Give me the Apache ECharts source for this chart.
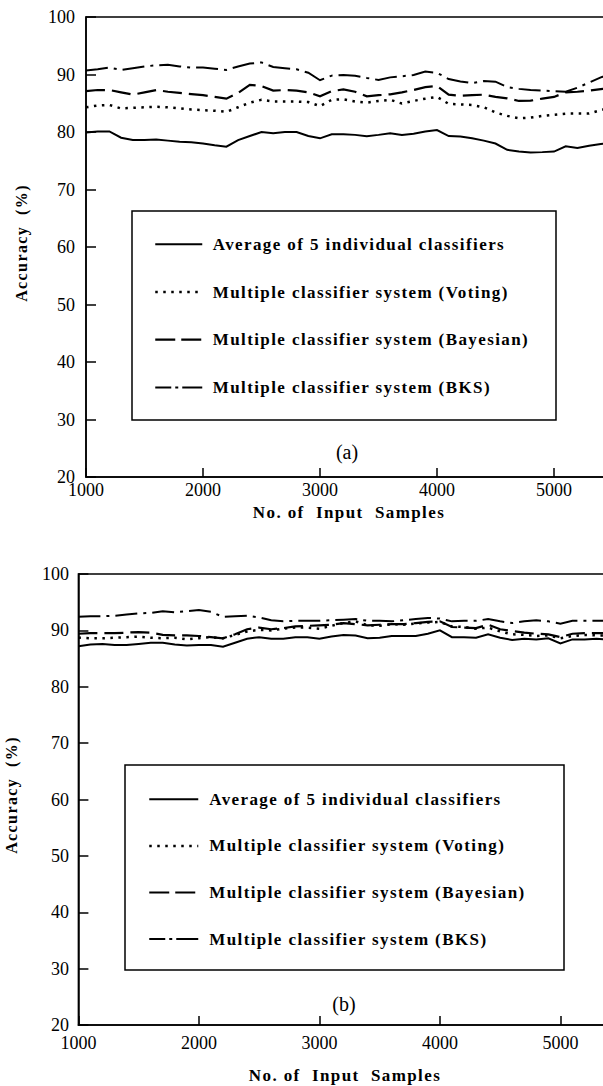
<!DOCTYPE html>
<html><head><meta charset="utf-8">
<style>
html,body{margin:0;padding:0;background:#fff;}
#c{width:603px;height:1086px;}
#c text[style*="bold"]{letter-spacing:1.4px;}
</style>
<script src="https://cdn.jsdelivr.net/npm/echarts@6.0.0/dist/echarts.min.js"></script>
</head><body><div id="c"></div>
<script>
// ---- data ----
const seriesNames = ['Average of 5 individual classifiers','Multiple classifier system (Voting)','Multiple classifier system (Bayesian)','Multiple classifier system (BKS)'];
const xTicks = [1000, 2000, 3000, 4000, 5000];
const yTicks = [20, 30, 40, 50, 60, 70, 80, 90, 100];

const samplesA = [1000,1100,1200,1300,1400,1500,1600,1700,1800,1900,2000,2100,2200,2300,2400,2500,2600,2700,2800,2900,3000,3100,3200,3300,3400,3500,3600,3700,3800,3900,4000,4100,4200,4300,4400,4500,4600,4700,4800,4900,5000,5100,5200,5300,5400,5500];
const avgA = [79.9,80.1,80.1,79.0,78.6,78.6,78.7,78.5,78.3,78.2, 78.0,77.7,77.45,78.6,79.3,80.0,79.8,80.0,80.0,79.3, 78.9,79.6,79.6,79.5,79.25,79.5,79.8,79.5,79.7,80.1, 80.35,79.3,79.2,78.9,78.5,78.0,76.9,76.6,76.45,76.5, 76.6,77.5,77.2,77.6,77.9,78.1];
const votA = [84.3,84.6,84.7,84.1,84.2,84.3,84.4,84.3,84.1,83.9, 83.8,83.7,83.5,84.3,85.1,85.6,85.3,85.3,85.3,85.2, 84.5,85.6,85.7,85.3,85.1,85.4,85.6,84.95,85.4,85.8, 86.1,84.9,84.8,84.7,84.3,83.4,82.8,82.4,82.5,82.8, 83.0,83.2,83.2,83.2,83.8,84.3];
const bayA = [87.1,87.3,87.3,86.9,86.5,86.9,87.3,87.0,86.8,86.6, 86.4,86.1,85.8,86.8,88.2,88.0,87.2,87.3,87.2,86.9, 86.2,87.1,87.4,87.0,86.2,86.4,86.55,86.9,87.3,87.8, 88.0,86.5,86.3,86.4,86.5,86.1,85.85,85.4,85.45,85.8, 86.1,86.9,87.0,87.2,87.45,87.7];
const bksA = [90.7,90.9,91.2,90.8,91.1,91.4,91.6,91.7,91.4,91.2, 91.2,91.0,90.8,91.4,91.9,92.1,91.3,91.1,90.9,90.3, 89.0,89.8,89.9,89.8,89.4,89.05,89.5,89.7,89.9,90.5, 90.3,89.2,88.8,88.5,88.85,88.75,87.8,87.5,87.3,87.2, 87.1,87.0,87.7,88.6,89.5,90.2];

const samplesB = [1000,1100,1200,1300,1400,1500,1600,1700,1800,1900,2000,2100,2200,2300,2400,2500,2600,2700,2800,2900,3000,3100,3200,3300,3400,3500,3600,3700,3800,3900,4000,4100,4200,4300,4400,4500,4600,4700,4800,4900,5000,5100,5200,5300,5400];
const avgB = [87.2,87.5,87.6,87.4,87.4,87.6,87.8,87.8,87.5,87.3, 87.4,87.4,87.1,87.8,88.5,88.8,88.5,88.5,88.8,88.8, 88.5,88.9,89.2,89.1,88.6,88.7,89.0,89.0,89.0,89.4, 90.0,88.8,88.8,88.7,89.3,88.7,88.3,88.5,88.4,88.6, 87.7,88.4,88.4,88.5,88.4];
const votB = [88.7,88.6,88.6,88.7,88.8,88.9,88.7,88.6,88.7,88.4, 88.6,88.8,88.6,89.2,89.8,90.1,90.0,90.3,90.5,90.5, 90.3,90.8,91.3,91.6,90.9,90.8,91.1,91.0,91.2,91.4, 91.5,90.7,90.6,90.3,90.5,89.8,89.3,89.2,89.0,89.1, 88.6,89.0,89.2,89.1,89.1];
const bayB = [89.4,89.5,89.5,89.5,89.6,89.7,89.6,89.2,89.1,89.1, 89.0,88.8,88.6,89.3,90.2,90.5,90.2,90.4,90.7,90.8, 90.9,91.0,91.3,91.1,90.9,91.0,91.1,91.1,91.3,91.5, 91.6,90.6,90.5,90.4,91.0,90.2,89.9,89.6,89.4,89.3, 88.8,89.4,89.5,89.5,89.5];
const bksB = [92.4,92.5,92.5,92.6,92.8,93.0,93.1,93.4,93.2,93.4, 93.6,93.3,92.4,92.5,92.6,92.3,91.8,91.6,91.7,91.7, 91.7,91.8,91.9,92.0,91.7,91.7,91.6,91.8,92.0,92.2, 92.1,91.6,91.7,91.7,92.0,91.6,91.3,91.6,91.8,91.6, 91.2,91.7,91.7,91.7,91.7];

// ---- styles ----
const SERIF = 'Liberation Serif';
const lineStyles = [
  {type:'solid', width:2},
  {type:[2.5,5.5], width:2.5},
  {type:[19,7], width:2.2},
  {type:[22,6,3,6], width:2}
];
const legendLineStyles = [
  {type:'solid', width:2},
  {type:[2.5,5.5], width:2.5},
  {type:[20,6], width:2.2},
  {type:[16,4,3,4,24,0], width:2}
];
const pair = (xs, ys) => xs.map((x, i) => [x, ys[i]]);
const dataA = [avgA, votA, bayA, bksA];
const dataB = [avgB, votB, bayB, bksB];

const series = [];
[0,1].forEach(g => {
  const xs = g === 0 ? samplesA : samplesB;
  const ds = g === 0 ? dataA : dataB;
  ds.forEach((ys, k) => {
    series.push({
      name: seriesNames[k], type:'line', xAxisIndex:g, yAxisIndex:g,
      data: pair(xs, ys), symbol:'none', showSymbol:false, smooth:false,
      lineStyle: Object.assign({color:'#000', cap:'butt', join:'miter'}, lineStyles[k]),
      itemStyle:{color:'#000', opacity:0}, silent:true, z:3
    });
  });
});

function xAxis(g, margin){
  return {gridIndex:g, type:'value', min:1000, max:6000, interval:1000,
    axisLine:{show:true, onZero:false, lineStyle:{color:'#000', width:1.5}},
    axisTick:{show:true, inside:true, length:9, lineStyle:{color:'#000', width:1.5}},
    axisLabel:{show:true, margin:margin, color:'#000', fontFamily:SERIF, fontSize:18, lineHeight:14,
      formatter: v => xTicks.indexOf(v) >= 0 ? String(v) : ''},
    splitLine:{show:false}};
}
function yAxis(g, margin){
  return {gridIndex:g, type:'value', min:20, max:100, interval:10,
    axisLine:{show:true, lineStyle:{color:'#000', width:1.5}},
    axisTick:{show:true, inside:true, length:10, lineStyle:{color:'#000', width:1.5}},
    axisLabel:{show:true, margin:margin, color:'#000', fontFamily:SERIF, fontSize:18, lineHeight:12,
      formatter: v => yTicks.indexOf(v) >= 0 ? String(v) : ''},
    splitLine:{show:false}};
}
function legend(left, top, w, gap, pad){
  return {show:true, orient:'vertical', left:left, top:top, itemWidth:w, itemHeight:14, itemGap:gap,
    selectedMode:false, padding:0, z:10,
    data: seriesNames.map((n, k) => ({name:n, lineStyle:Object.assign({color:'#000', cap:'butt'}, legendLineStyles[k]), itemStyle:{opacity:0}})),
    itemStyle:{opacity:0},
    textStyle:{fontFamily:SERIF, fontWeight:'bold', fontSize:17, color:'#000', padding:[0,0,0,pad]}};
}
const boldText = (txt, x, y, size, rot) => ({type:'text', x:x, y:y, rotation:rot||0, z:20,
  style:{text:txt, fontFamily:SERIF, fontWeight:'bold', fontSize:size, fill:'#000', textAlign:'center', textVerticalAlign:'middle'}});
const plainText = (txt, x, y, size) => ({type:'text', x:x, y:y, z:20,
  style:{text:txt, fontFamily:SERIF, fontSize:size, fill:'#000', textAlign:'center', textVerticalAlign:'middle'}});

const chart = echarts.init(document.getElementById('c'), null, {renderer:'svg', width:603, height:1086});
chart.setOption({
  animation:false,
  backgroundColor:'#fff',
  grid:[
    {left:86, top:17, width:585, height:460, show:true, borderColor:'#000', borderWidth:1.5, backgroundColor:'transparent', containLabel:false, outerBoundsMode:'none'},
    {left:78.4, top:574, width:602.5, height:451, show:true, borderColor:'#000', borderWidth:1.5, backgroundColor:'transparent', containLabel:false, outerBoundsMode:'none'}
  ],
  xAxis:[xAxis(0, 6), xAxis(1, 11)],
  yAxis:[yAxis(0, 11), yAxis(1, 9.5)],
  legend:[legend(154, 235.8, 47, 30.7, 5.5), legend(148, 790.8, 49, 29.6, 6)],
  graphic:[
    {type:'rect', z:1, shape:{x:132, y:211, width:424, height:209}, style:{fill:'#fff', stroke:'#000', lineWidth:1.5}},
    {type:'rect', z:1, shape:{x:125, y:765, width:439, height:205}, style:{fill:'#fff', stroke:'#000', lineWidth:1.5}},
    boldText('No. of  Input  Samples', 349, 512, 17),
    boldText('No. of  Input  Samples', 345, 1075, 17),
    boldText('Accuracy  (%)', 21, 243, 16, Math.PI/2),
    boldText('Accuracy  (%)', 11, 795, 16, Math.PI/2),
    plainText('(a)', 347, 452, 20),
    plainText('(b)', 344, 1004, 20)
  ],
  series: series
});
</script>
</body></html>
